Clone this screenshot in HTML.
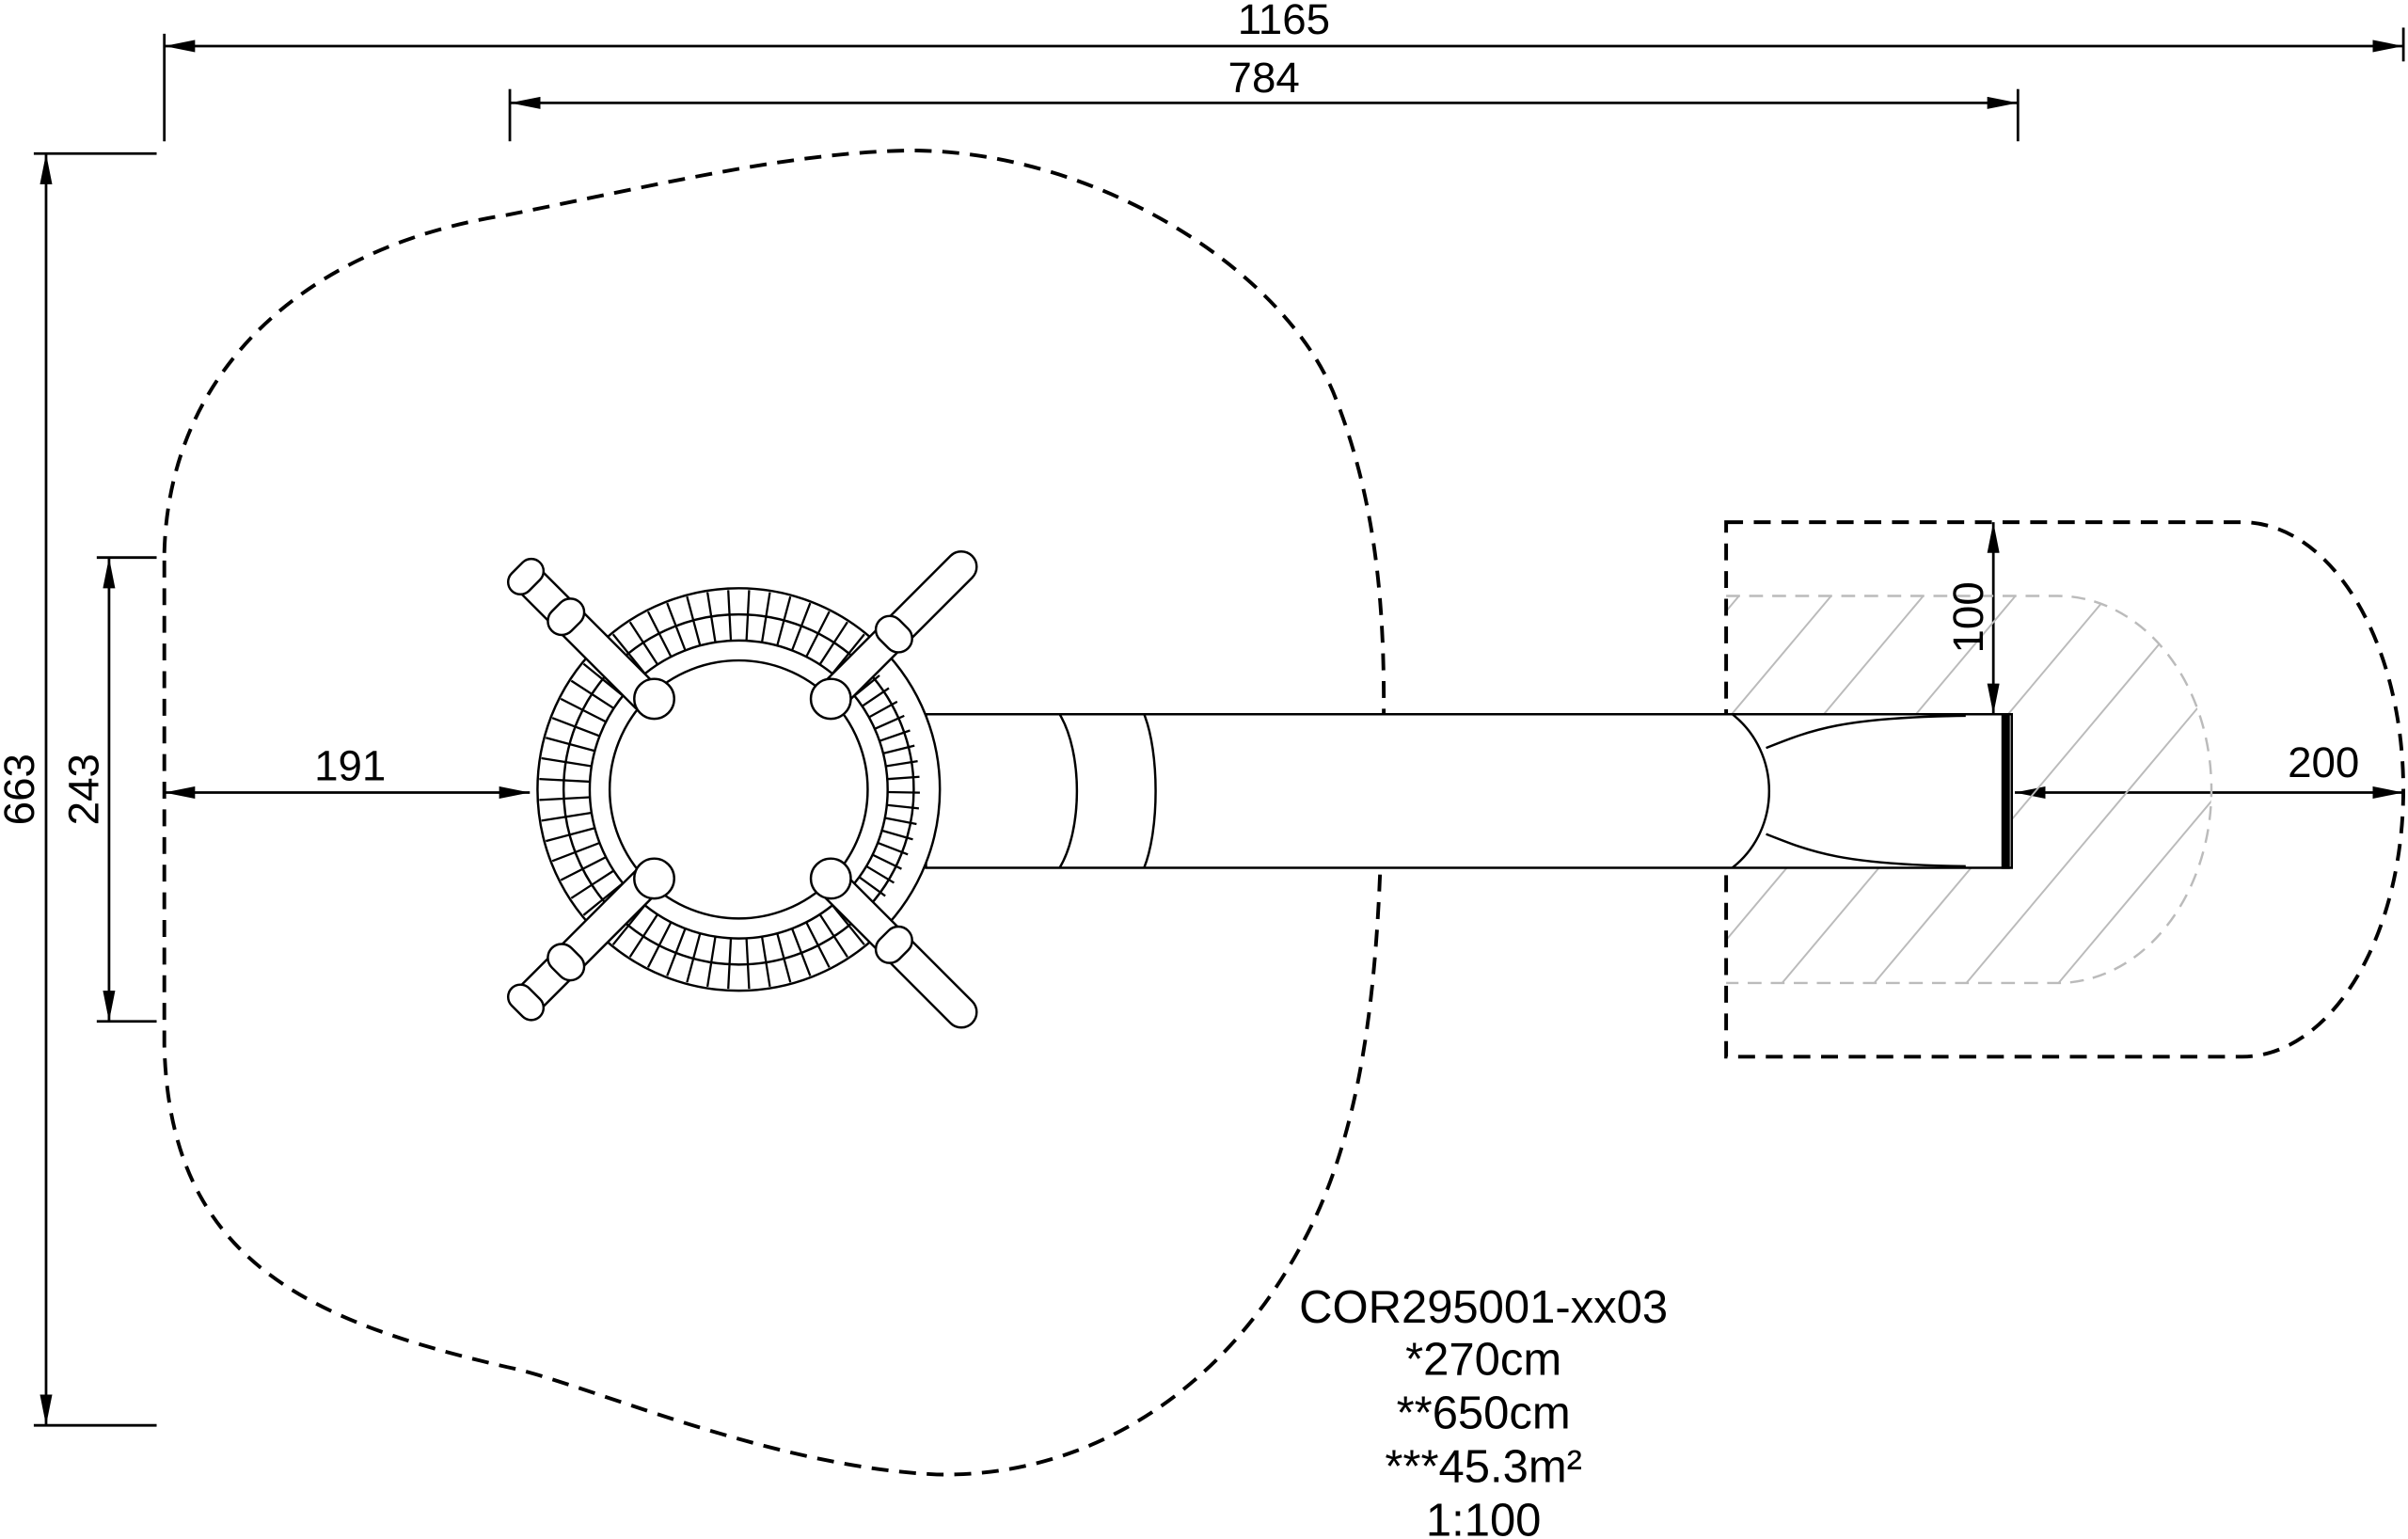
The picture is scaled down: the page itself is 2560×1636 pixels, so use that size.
<!DOCTYPE html>
<html><head><meta charset="utf-8"><style>
html,body{margin:0;padding:0;background:#fff;width:2560px;height:1636px;overflow:hidden}
svg{display:block}
text{font-family:"Liberation Sans",Arial,sans-serif;fill:#000}
</style></head><body>
<svg width="2560" height="1636" viewBox="0 0 1568 1002" preserveAspectRatio="none" xmlns="http://www.w3.org/2000/svg">
<defs>
<marker id="a" viewBox="0 0 20 8" refX="20" refY="4" markerWidth="20" markerHeight="8" markerUnits="userSpaceOnUse" orient="auto-start-reverse"><path d="M0,0 L20,4 L0,8 Z" fill="#000"/></marker>
<clipPath id="hc"><path d="M1124,388 H1340 A100 126 0 0 1 1340,640 H1124 Z"/></clipPath>
<line id="sp" x1="481" y1="384" x2="481" y2="417"/>
<line id="sq" x1="481" y1="396" x2="481" y2="417"/>
<g id="quad">
<use href="#sp" transform="rotate(-39 481 514)"/><use href="#sp" transform="rotate(-33 481 514)"/><use href="#sp" transform="rotate(-27 481 514)"/><use href="#sp" transform="rotate(-21 481 514)"/><use href="#sp" transform="rotate(-15 481 514)"/><use href="#sp" transform="rotate(-9 481 514)"/><use href="#sp" transform="rotate(-3 481 514)"/><use href="#sp" transform="rotate(3 481 514)"/><use href="#sp" transform="rotate(9 481 514)"/><use href="#sp" transform="rotate(15 481 514)"/><use href="#sp" transform="rotate(21 481 514)"/><use href="#sp" transform="rotate(27 481 514)"/><use href="#sp" transform="rotate(33 481 514)"/><use href="#sp" transform="rotate(39 481 514)"/>
</g>
<g id="quadr">
<use href="#sq" transform="rotate(-39 481 514)"/><use href="#sq" transform="rotate(-34 481 514)"/><use href="#sq" transform="rotate(-29 481 514)"/><use href="#sq" transform="rotate(-24 481 514)"/><use href="#sq" transform="rotate(-19 481 514)"/><use href="#sq" transform="rotate(-14 481 514)"/><use href="#sq" transform="rotate(-9 481 514)"/><use href="#sq" transform="rotate(-4 481 514)"/><use href="#sq" transform="rotate(1 481 514)"/><use href="#sq" transform="rotate(6 481 514)"/><use href="#sq" transform="rotate(11 481 514)"/><use href="#sq" transform="rotate(16 481 514)"/><use href="#sq" transform="rotate(21 481 514)"/><use href="#sq" transform="rotate(26 481 514)"/><use href="#sq" transform="rotate(31 481 514)"/><use href="#sq" transform="rotate(36 481 514)"/>
</g>
</defs>
<rect width="1568" height="1002" fill="#fff"/>
<g stroke="#000" stroke-width="1.7" fill="none">
<line x1="107" y1="30" x2="1565" y2="30" marker-start="url(#a)" marker-end="url(#a)"/>
<line x1="107" y1="22" x2="107" y2="92"/><line x1="1565" y1="18" x2="1565" y2="40"/>
<line x1="332" y1="67" x2="1314" y2="67" marker-start="url(#a)" marker-end="url(#a)"/>
<line x1="332" y1="58" x2="332" y2="92"/><line x1="1314" y1="58" x2="1314" y2="92"/>
<line x1="30" y1="100" x2="30" y2="928" marker-start="url(#a)" marker-end="url(#a)"/>
<line x1="22" y1="100" x2="102" y2="100"/><line x1="22" y1="928" x2="102" y2="928"/>
<line x1="71" y1="363" x2="71" y2="665" marker-start="url(#a)" marker-end="url(#a)"/>
<line x1="63" y1="363" x2="102" y2="363"/><line x1="63" y1="665" x2="102" y2="665"/>
<line x1="107" y1="516" x2="345" y2="516" marker-start="url(#a)" marker-end="url(#a)"/>
<line x1="1298" y1="340" x2="1298" y2="465" marker-start="url(#a)" marker-end="url(#a)"/>
<line x1="1312" y1="516" x2="1565" y2="516" marker-start="url(#a)" marker-end="url(#a)"/>
</g>
<g clip-path="url(#hc)" stroke="#bbb" stroke-width="1.2">
<path d="M1050,700 L1420,260 M1110,700 L1480,260 M1170,700 L1540,260 M1230,700 L1600,260 M1290,700 L1660,260 M1350,700 L1720,260 M990,700 L1360,260 M930,700 L1300,260 M870,700 L1240,260"/>
</g>
<path d="M1124,388 H1340 A100 126 0 0 1 1340,640 H1124" fill="none" stroke="#bbb" stroke-width="1.5" stroke-dasharray="9,6"/>
<g stroke="#000" stroke-width="2.4" fill="none" stroke-dasharray="11,7">
<path d="M1124,340 H1460 A105 174 0 0 1 1460,688 H1124 Z"/>
<path d="M107,360 C110,240 200,160 330,140 C430,120 520,98 597,98 C720,100 840,180 870,260 C905,350 902,440 900,520 C898,640 888,740 845,815 C795,905 710,962 610,960 C500,955 380,900 330,890 C200,860 110,820 107,680 Z"/>
</g>
<g stroke="#000" stroke-width="1.5" fill="#fff">
<path d="M603,465 H1310 V565 H603 Z"/>
<path d="M690,465 C705,490 705,540 690,565" fill="none"/>
<path d="M745,465 C755,490 755,540 745,565" fill="none"/>
<path d="M1128,465 C1160,490 1160,540 1128,565" fill="none"/>
<path d="M1150,487 C1180,475 1200,467 1280,466 M1150,543 C1180,555 1200,563 1280,564" fill="none"/>
<rect x="1304" y="465" width="4" height="100" fill="#000"/>
</g>
<g stroke="#000" stroke-width="1.5" fill="#fff">
<circle cx="481" cy="514" r="131"/>
<circle cx="481" cy="514" r="114" fill="none"/>
<g stroke-width="1.4">
<use href="#quad"/>
<use href="#quad" transform="rotate(180 481 514)"/>
<use href="#quad" transform="rotate(-90 481 514)"/>
<use href="#quadr" transform="rotate(90 481 514)"/>
</g>
<circle cx="481" cy="514" r="97"/>
<circle cx="481" cy="514" r="84"/>
</g>
<g stroke="#000" stroke-width="1.5" fill="#fff">
<g transform="translate(481 514) rotate(-45)"><rect x="-10" y="-200" width="20" height="125" rx="10"/><rect x="-13" y="-168" width="26" height="18" rx="9"/><rect x="-13" y="-204" width="26" height="16" rx="8"/></g>
<g transform="translate(481 514) rotate(45)"><rect x="-10" y="-215" width="20" height="140" rx="10"/><rect x="-13" y="-152" width="26" height="18" rx="9"/></g>
<g transform="translate(481 514) rotate(135)"><rect x="-10" y="-215" width="20" height="140" rx="10"/><rect x="-13" y="-152" width="26" height="18" rx="9"/></g>
<g transform="translate(481 514) rotate(225)"><rect x="-10" y="-200" width="20" height="125" rx="10"/><rect x="-13" y="-168" width="26" height="18" rx="9"/><rect x="-13" y="-204" width="26" height="16" rx="8"/></g>
<circle cx="426" cy="455" r="13"/><circle cx="541" cy="455" r="13"/>
<circle cx="426" cy="572" r="13"/><circle cx="541" cy="572" r="13"/>
</g>
<g font-size="28">
<text x="836" y="22" text-anchor="middle">1165</text>
<text x="823" y="60" text-anchor="middle">784</text>
<text x="228" y="508" text-anchor="middle">191</text>
<text x="1513" y="506" text-anchor="middle">200</text>
<text transform="translate(22 514) rotate(-90)" text-anchor="middle">663</text>
<text transform="translate(64 514) rotate(-90)" text-anchor="middle">243</text>
<text transform="translate(1291 402) rotate(-90)" text-anchor="middle">100</text>
</g>
<g font-size="30">
<text x="966" y="861" text-anchor="middle">COR295001-xx03</text>
<text x="966" y="895" text-anchor="middle">*270cm</text>
<text x="966" y="930" text-anchor="middle">**650cm</text>
<text x="966" y="965" text-anchor="middle">***45.3m²</text>
<text x="966" y="1000" text-anchor="middle">1:100</text>
</g>
</svg>
</body></html>
